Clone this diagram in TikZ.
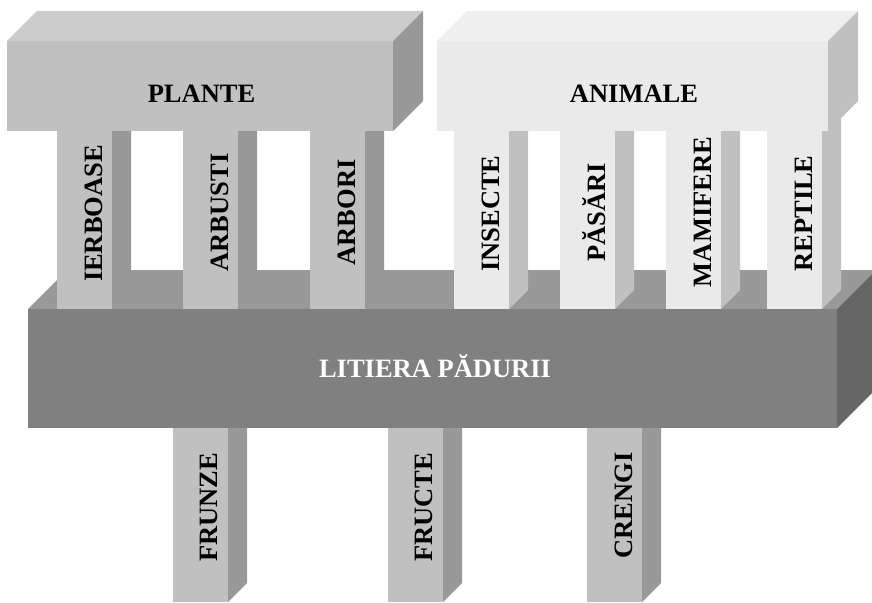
\documentclass[tikz,border=0pt]{standalone}
\usepackage{fontspec}
\setmainfont{Liberation Serif}
\definecolor{plfront}{HTML}{C0C0C0}
\definecolor{pltop}{HTML}{CCCCCC}
\definecolor{plside}{HTML}{999999}
\definecolor{anfront}{HTML}{EAEAEA}
\definecolor{antop}{HTML}{EFEFEF}
\definecolor{anside}{HTML}{C0C0C0}
\definecolor{lifront}{HTML}{808080}
\definecolor{litop}{HTML}{999999}
\definecolor{liside}{HTML}{666666}
% #1,#2 front top-left; #3,#4 front bottom-right; #5 depth; #6 front, #7 top, #8 side colour
\newcommand\mycuboid[8]{%
  \fill[#7] (#1,#2) -- ({#1+#5},{#2-#5}) -- ({#3+#5},{#2-#5}) -- (#3,#2) -- cycle;
  \fill[#8] (#3,#2) -- ({#3+#5},{#2-#5}) -- ({#3+#5},{#4-#5}) -- (#3,#4) -- cycle;
  \fill[#6] (#1,#2) rectangle (#3,#4);
}
\tikzset{
  lbl/.style={font=\fontsize{26.5}{30}\selectfont\bfseries, inner sep=0pt, anchor=base},
  vlbl/.style={lbl, rotate=90},
}
\begin{document}
\begin{tikzpicture}[x=1pt,y=-1pt]
\useasboundingbox (0,0) rectangle (872,602);
\clip (0,0) rectangle (872,602);
% bottom columns
\mycuboid{173}{420}{228}{602}{19}{plfront}{pltop}{plside}
\mycuboid{388}{420}{443}{602}{19}{plfront}{pltop}{plside}
\mycuboid{587}{420}{642}{602}{19}{plfront}{pltop}{plside}
% forest litter slab
\mycuboid{28}{309}{837}{428}{39}{lifront}{litop}{liside}
% plant columns
\mycuboid{57}{100}{112}{309}{19}{plfront}{pltop}{plside}
\mycuboid{183}{100}{238}{309}{19}{plfront}{pltop}{plside}
\mycuboid{310}{100}{365}{309}{19}{plfront}{pltop}{plside}
% animal columns
\mycuboid{454}{100}{509}{309}{19}{anfront}{antop}{anside}
\mycuboid{560}{100}{615}{309}{19}{anfront}{antop}{anside}
\mycuboid{666}{100}{721}{309}{19}{anfront}{antop}{anside}
\mycuboid{767}{100}{822}{309}{19}{anfront}{antop}{anside}
% top blocks
\mycuboid{7}{41}{393}{131}{30}{plfront}{pltop}{plside}
\mycuboid{437}{41}{828}{131}{30}{anfront}{antop}{anside}
% labels
\node[lbl] (plante) at (201.5,102) {PLANTE};
\node[lbl] (animale) at (634,102) {ANIMALE};
\node[lbl, text=white] (litiera) at (435,377) {LITIERA PĂDURII};
\node[vlbl] (ierboase) at (102,213.5) {IERBOASE};
\node[vlbl] (arbusti) at (228,212.5) {ARBUSTI};
\node[vlbl] (arbori) at (355,212.5) {ARBORI};
\node[vlbl] (insecte) at (499,213.5) {INSECTE};
\node[vlbl] (pasari) at (605,212.5) {PĂSĂRI};
\node[vlbl] (mamifere) at (711,212) {MAMIFERE};
\node[vlbl] (reptile) at (812,213.5) {REPTILE};
\node[vlbl] (frunze) at (217,507.5) {FRUNZE};
\node[vlbl] (fructe) at (432,507.5) {FRUCTE};
\node[vlbl] (crengi) at (632,505.5) {CRENGI};
\end{tikzpicture}
\end{document}
